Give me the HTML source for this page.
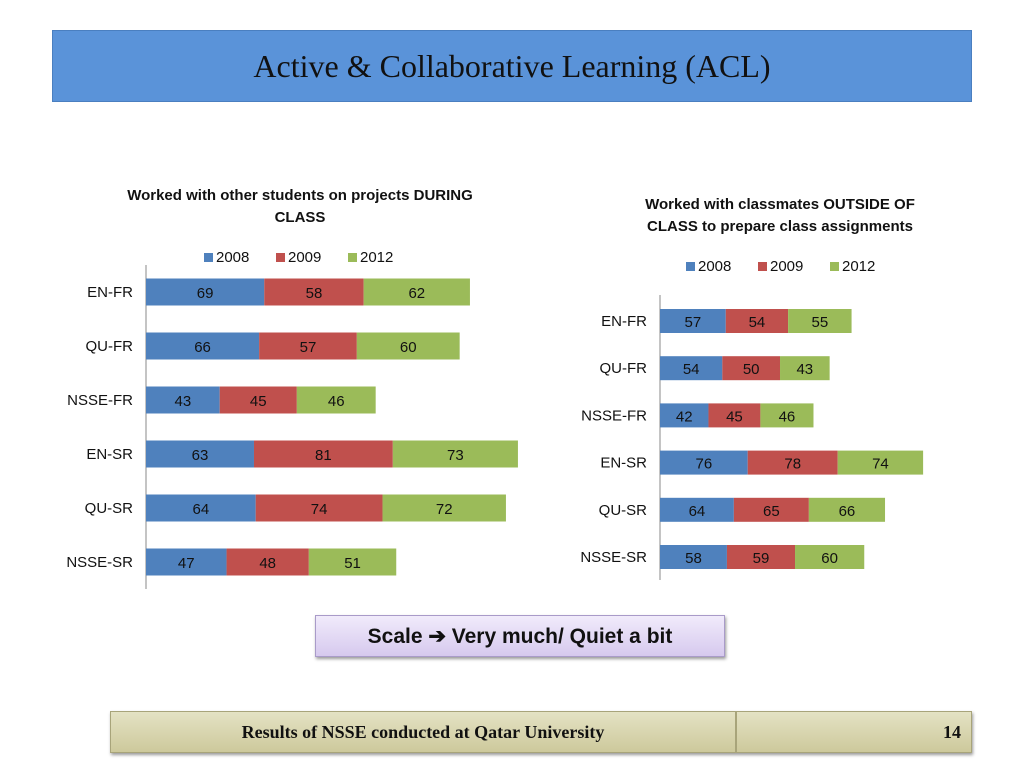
<!DOCTYPE html>
<html><head><meta charset="utf-8"><style>
body{margin:0;width:1024px;height:768px;background:#fff;position:relative;overflow:hidden;font-family:"Liberation Sans",sans-serif}
.abs{position:absolute}
</style></head><body>
<div class="abs" style="left:52px;top:30px;width:920px;height:72px;background:#5a93d9;border:1px solid #4a7fc0;box-sizing:border-box;display:flex;align-items:center;justify-content:center;font-family:'Liberation Serif',serif;font-size:32px;color:#111">Active &amp; Collaborative Learning (ACL)</div>
<svg id="chart" class="abs" style="left:0;top:0" width="1024" height="768"></svg>
<div class="abs" style="left:315px;top:615px;width:410px;height:42px;box-sizing:border-box;border:1px solid #a99bc9;background:linear-gradient(#f1ebfb,#d6c9ee);box-shadow:1px 2px 3px #999;display:flex;align-items:center;justify-content:center;font-weight:bold;font-size:21px;color:#111">Scale ➔ Very much/ Quiet a bit</div>
<div class="abs" style="left:110px;top:711px;width:862px;height:42px;display:flex;box-shadow:1px 2px 3px #999">
<div style="width:624px;border:1px solid #a8a47a;background:linear-gradient(#e4e2c4,#cdc99c);display:flex;align-items:center;justify-content:center;font-family:'Liberation Serif',serif;font-weight:bold;font-size:18px;color:#111">Results of NSSE conducted at Qatar University</div>
<div style="flex:1;border:1px solid #a8a47a;background:linear-gradient(#e4e2c4,#cdc99c);display:flex;align-items:center;justify-content:flex-end;padding-right:10px;font-family:'Liberation Serif',serif;font-weight:bold;font-size:18px;color:#111">14</div>
</div>
<script>
const categories=["EN-FR","QU-FR","NSSE-FR","EN-SR","QU-SR","NSSE-SR"];
const seriesNames=["2008","2009","2012"];
const left2008=[69,66,43,63,64,47];
const left2009=[58,57,45,81,74,48];
const left2012=[62,60,46,73,72,51];
const right2008=[57,54,42,76,64,58];
const right2009=[54,50,45,78,65,59];
const right2012=[55,43,46,74,66,60];
const colors=["#4f81bd","#c0504d","#9bbb59"];
const svg=document.getElementById('chart');
const NS="http://www.w3.org/2000/svg";
function mk(t,a,txt){const e=document.createElementNS(NS,t);for(const k in a)e.setAttribute(k,a[k]);if(txt!==undefined)e.textContent=txt;svg.appendChild(e);return e;}
function chart(cfg){
  const sx=v=>v*cfg.scale;
  const sy=i=>cfg.y0+i*cfg.step;
  cfg.title.forEach((t,i)=>{const e=mk('text',{x:cfg.titleX,y:cfg.titleY+i*22,'text-anchor':'middle','font-size':15,'font-weight':'bold',fill:'#111'},t);});
  let lx=cfg.legX;
  seriesNames.forEach((n,s)=>{const r=mk('rect',{x:lx,y:cfg.legY-9,width:9,height:9,fill:colors[s]});const t=mk('text',{x:lx+12,y:cfg.legY,'font-size':15,fill:'#111'},n);lx+=72;});
  const ax=mk('line',{x1:cfg.x0,x2:cfg.x0,y1:cfg.axT,y2:cfg.axB,stroke:'#888'});
  categories.forEach((c,i)=>{
    const cy=sy(i);
    const l=mk('text',{x:cfg.x0-13,y:cy+5,'text-anchor':'end','font-size':15,fill:'#111'},c);
    let x=cfg.x0;
    cfg.data.forEach((arr,s)=>{const w=sx(arr[i]);
      const r=mk('rect',{x:x,y:cy-cfg.bh/2,width:w,height:cfg.bh,fill:colors[s]});
      const t=mk('text',{x:x+w/2,y:cy+6,'text-anchor':'middle','font-size':15,fill:'#111'},arr[i]);
      x+=w;});
  });
}
chart({data:[left2008,left2009,left2012],scale:1.714,x0:146,y0:292,step:54,bh:27,axT:265,axB:589,title:["Worked with other students on projects DURING","CLASS"],titleX:300,titleY:200,legX:204,legY:262});
chart({data:[right2008,right2009,right2012],scale:1.154,x0:660,y0:321,step:47.2,bh:24,axT:295,axB:580,title:["Worked with classmates OUTSIDE OF","CLASS to prepare class assignments"],titleX:780,titleY:209,legX:686,legY:271});
</script>
</body></html>
